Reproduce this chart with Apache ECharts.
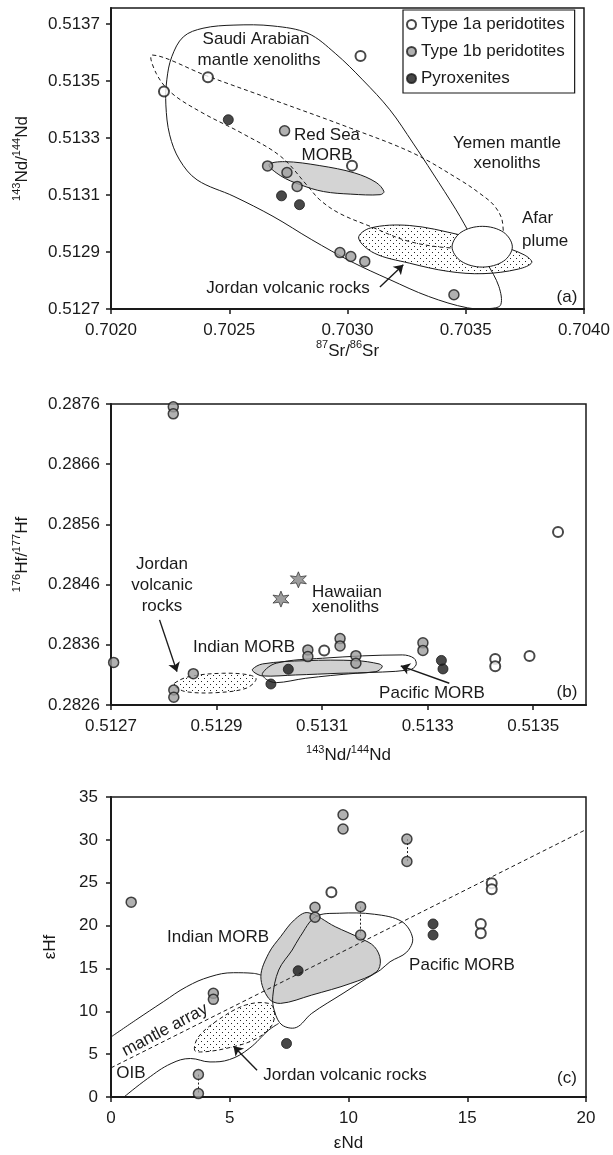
<!DOCTYPE html>
<html>
<head>
<meta charset="utf-8">
<script src="https://cdn.jsdelivr.net/npm/echarts@6/dist/echarts.min.js"></script>
<style>
html,body{margin:0;padding:0;background:#fff}
#main{width:613px;height:1155px}
</style>
</head>
<body>
<div id="main"></div>
<script>
// ---- panel (a): 87Sr/86Sr vs 143Nd/144Nd ----
var a_type1a = [[0.702224,0.513463],[0.702410,0.513513],[0.703055,0.513588],[0.703019,0.513203]];
var a_type1b = [[0.702734,0.513325],[0.702662,0.513202],[0.702744,0.513179],[0.702787,0.513130],
  [0.702968,0.512898],[0.703014,0.512884],[0.703073,0.512867],[0.703450,0.512750]];
var a_pyrox = [[0.702496,0.513364],[0.702721,0.513097],[0.702797,0.513066]];
var a_saudi = [[0.702257,0.513585],[0.702306,0.513655],[0.702389,0.513685],[0.70252,0.513696],[0.702685,0.513693],
  [0.702833,0.513667],[0.702948,0.513597],[0.703064,0.513504],[0.703179,0.513399],[0.703277,0.513282],
  [0.70336,0.513177],[0.703459,0.513048],[0.703524,0.512954],[0.70359,0.512861],[0.70364,0.512779],
  [0.703648,0.512715],[0.703607,0.512702],[0.703508,0.512704],[0.703343,0.512744],[0.703179,0.512803],
  [0.703014,0.512867],[0.702849,0.512943],[0.702685,0.513025],[0.70252,0.513095],[0.702364,0.513153],
  [0.70229,0.513223],[0.702248,0.513311],[0.702232,0.513416],[0.702236,0.513504]];
var a_yemen = [[0.702175,0.513591],[0.702405,0.513518],[0.702685,0.513434],[0.703014,0.513334],[0.703277,0.513247],
  [0.703475,0.513153],[0.703557,0.513107],[0.703623,0.51306],[0.703656,0.513001],[0.70364,0.512919],
  [0.703442,0.512914],[0.703261,0.512937],[0.703096,0.51299],[0.702965,0.513036],[0.702883,0.513083],
  [0.702833,0.51313],[0.702718,0.513235],[0.702553,0.513317],[0.702389,0.513387],[0.702257,0.513457],
  [0.702191,0.513527]];
var a_redsea = [[0.702668,0.513206],[0.702734,0.513217],[0.702883,0.513203],[0.703031,0.513177],[0.703121,0.513144],
  [0.703154,0.513112],[0.703138,0.513101],[0.703014,0.513103],[0.702899,0.513112],[0.7028,0.513136],[0.702718,0.513167]];
var a_jordan = [[0.703047,0.512949],[0.703096,0.512984],[0.703261,0.512993],[0.703475,0.51296],[0.70364,0.512923],
  [0.703747,0.51289],[0.703779,0.512863],[0.703722,0.51284],[0.703574,0.512824],[0.703426,0.512832],
  [0.703261,0.512861],[0.703113,0.512896]];
var a_afar = [[0.703697,0.512918],[0.70366,0.512969],[0.70357,0.51299],[0.70348,0.512969],
  [0.703442,0.512918],[0.70348,0.512868],[0.70357,0.512847],[0.70366,0.512868]];
var a_arrow = [[0.703137,0.512777],[0.703236,0.512855]];
var a_xticks = [0.7020,0.7025,0.7030,0.7035,0.7040];
var a_yticks = [0.5127,0.5129,0.5131,0.5133,0.5135,0.5137];

// ---- panel (b): 143Nd/144Nd vs 176Hf/177Hf ----
var b_type1a = [[0.513104,0.283507],[0.513428,0.283365],[0.513428,0.283244],[0.513493,0.283415],[0.513547,0.285474]];
var b_type1b = [[0.512705,0.283307],[0.512856,0.283121],[0.512819,0.282850],[0.512819,0.282728],[0.512818,0.287553],
  [0.512818,0.287437],[0.513073,0.283515],[0.513073,0.283404],[0.513134,0.283703],[0.513134,0.283582],
  [0.513164,0.283420],[0.513164,0.283294],[0.513291,0.283632],[0.513291,0.283507]];
var b_pyrox = [[0.513003,0.282949],[0.513036,0.283194],[0.513326,0.283340],[0.513329,0.283199]];
var b_hawaii = [[0.513055,0.284680],[0.513022,0.284359]];
var b_jordan = [[0.51282,0.282961],[0.512848,0.283071],[0.512911,0.283127],[0.512962,0.283099],[0.512975,0.283028],
  [0.512956,0.282878],[0.512899,0.282805],[0.512842,0.282821],[0.512822,0.282904]];
var b_indian = [[0.512968,0.283194],[0.512987,0.283282],[0.513069,0.283337],[0.513164,0.283337],[0.513208,0.283282],
  [0.513214,0.283237],[0.513202,0.283154],[0.513132,0.283127],[0.51305,0.283099],[0.512987,0.283083],[0.512971,0.283144]];
var b_pacific = [[0.512987,0.283127],[0.513013,0.283294],[0.513101,0.283377],[0.513252,0.283432],[0.513274,0.283377],
  [0.513278,0.283266],[0.513265,0.283182],[0.513164,0.283127],[0.513069,0.283044],[0.513013,0.282971],[0.512994,0.283028]];
var b_arrows = [[[0.512792,0.284014],[0.512825,0.283154]], [[0.513341,0.282961],[0.513249,0.283249]]];
var b_xticks = [0.5127,0.5129,0.5131,0.5133,0.5135];
var b_yticks = [0.2826,0.2836,0.2846,0.2856,0.2866,0.2876];

// ---- panel (c): eNd vs eHf ----
var c_type1a = [[9.28,23.9],[16.03,24.95],[16.03,24.25],[15.57,20.19],[15.57,19.1]];
var c_type1b = [[0.85,22.73],[9.77,32.93],[9.77,31.26],[12.46,30.09],[12.46,27.47],[8.59,22.14],[8.59,20.97],
  [10.51,22.21],[10.51,18.9],[4.31,12.09],[4.31,11.39],[3.68,2.62],[3.68,0.4]];
var c_pyrox = [[13.56,20.19],[13.56,18.9],[7.88,14.73],[7.39,6.24]];
var c_pairs = [[[12.46,30.09],[12.46,27.47]], [[10.51,22.21],[10.51,18.9]], [[3.68,2.62],[3.68,0.4]]];
var c_mantleArray = [[0,3.4],[20,31.2]];
var c_oibUpper = [[0,7.0],[1.04,8.97],[2.2,11.11],[3.18,12.86],[4.17,14.03],[5.16,14.5],[5.99,14.43],[6.31,14.23]];
var c_oibLower = [[0.55,0],[1.54,2.15],[2.53,3.9],[3.35,4.49],[4.17,4.09],[4.99,4.37],[5.82,5.66],[6.64,7.8],[7.06,8.58]];
var c_jordan = [[3.52,5.46],[3.68,7.01],[4.5,8.97],[5.66,10.72],[6.64,10.92],[6.89,9.94],[6.73,8.18],[5.99,6.63],[4.83,5.66],[3.85,5.26]];
var c_indian = [[8.29,21.51],[9.44,19.87],[10.51,18.51],[11.09,17.54],[11.34,15.98],[11.18,14.61],[10.1,13.26],
  [8.45,11.89],[7.14,10.92],[6.64,11.5],[6.31,14.03],[6.64,16.76],[7.14,18.7],[7.72,20.66]];
var c_pacific = [[8.62,21.04],[9.61,21.44],[11.09,21.32],[12.25,20.46],[12.7,18.51],[12.45,16.9],[11.75,15.78],
  [11.34,14.81],[10.76,13.84],[9.77,12.09],[8.45,9.75],[7.8,8.11],[7.2,8.4],[6.89,9.94],[6.81,11.69],
  [7.06,14.81],[7.63,17.15],[7.96,18.7]];
var c_arrow = [[6.15,3.12],[5.16,5.93]];

var INK = '#1a1a1a';
var FONT = '"Liberation Sans", Arial, sans-serif';

// dotted fill for the Jordan fields
var dots = document.createElement('canvas');
dots.width = 6; dots.height = 6;
var dctx = dots.getContext('2d');
dctx.fillStyle = '#222';
dctx.fillRect(0, 0, 1, 1);
dctx.fillRect(3, 3, 1, 1);
var dotFill = {image: dots, repeat: 'repeat'};

function field(verts, idx, style, z) {
  return {
    type: 'custom', coordinateSystem: 'cartesian2d', xAxisIndex: idx, yAxisIndex: idx,
    data: verts, encode: {x: 0, y: 1}, z: z, silent: true,
    renderItem: function (params, api) {
      if (params.dataIndex !== 0) return null;
      var pts = verts.map(function (v) { return api.coord(v); });
      return {type: 'polygon', shape: {points: pts, smooth: 0.35}, style: style};
    }
  };
}

function curve(pts, idx, dashed) {
  return {
    type: 'line', xAxisIndex: idx, yAxisIndex: idx, data: pts, smooth: 0.4, symbol: 'none', silent: true, z: 3,
    lineStyle: {color: INK, width: 1, type: dashed ? [4, 3] : 'solid'}
  };
}

function arrows(list, idx, dashed) {
  return {
    type: 'lines', coordinateSystem: 'cartesian2d', xAxisIndex: idx, yAxisIndex: idx, silent: true, z: 6,
    symbol: dashed ? 'none' : ['none', 'arrow'], symbolSize: 9,
    lineStyle: {color: INK, width: dashed ? 1 : 1.4, opacity: 1, type: dashed ? [2, 2] : 'solid'},
    data: list.map(function (c) { return {coords: c}; })
  };
}

var ptStyle = {
  'Type 1a peridotites': {color: '#fff', borderColor: INK, borderWidth: 2},
  'Type 1b peridotites': {color: '#9e9e9e', borderColor: INK, borderWidth: 1.5},
  'Pyroxenites': {color: INK, borderColor: INK, borderWidth: 1}
};
function pts(name, data, idx) {
  return {
    type: 'scatter', name: name, xAxisIndex: idx, yAxisIndex: idx, data: data, symbol: 'circle', symbolSize: 10,
    itemStyle: ptStyle[name], z: 10, clip: false, silent: true
  };
}

var supRich = {
  s: {fontSize: 11, fontFamily: FONT, color: INK, verticalAlign: 'top', lineHeight: 11},
  n: {fontSize: 17, fontFamily: FONT, color: INK, verticalAlign: 'bottom', lineHeight: 20}
};
function axisCommon(ticks, digits, margin) {
  var o = {
    type: 'value',
    axisLine: {show: true, onZero: false, lineStyle: {color: INK, width: 2}},
    axisTick: {show: true, length: 5, lineStyle: {color: INK, width: 1.5}},
    axisLabel: {fontSize: 17, fontFamily: FONT, color: INK, margin: margin,
      formatter: function (v) { return v.toFixed(digits); }},
    splitLine: {show: false},
    nameLocation: 'middle',
    nameTextStyle: {fontSize: 17, fontFamily: FONT, color: INK, rich: supRich}
  };
  if (ticks) {
    o.axisTick.customValues = ticks;
    o.axisLabel.customValues = ticks;
  }
  return o;
}
function ax(base, extra) { return Object.assign(base, extra); }

function txt(s, x, y, align, rot) {
  return {type: 'text', x: x, y: y, rotation: rot || 0, z: 50, silent: true,
    style: {text: s, fill: INK, font: '17px ' + FONT, align: align || 'center', verticalAlign: 'middle'}};
}

var chart = echarts.init(document.getElementById('main'));
var gridBox = {left: 111, width: 475, show: true, borderColor: INK, borderWidth: 1.5};

chart.setOption({
  backgroundColor: '#fff',
  animation: false,
  textStyle: {fontFamily: FONT},
  grid: [
    Object.assign({top: 8, height: 301}, gridBox),
    Object.assign({top: 404, height: 301}, gridBox),
    Object.assign({top: 797, height: 300}, gridBox)
  ],
  xAxis: [
    ax(axisCommon(a_xticks, 4, 13), {gridIndex: 0, min: 0.702, max: 0.704, name: '{s|87}{n|Sr/}{s|86}{n|Sr}', nameGap: 30}),
    ax(axisCommon(b_xticks, 4, 13), {gridIndex: 1, min: 0.5127, max: 0.5136, name: '{s|143}{n|Nd/}{s|144}{n|Nd}', nameGap: 39}),
    ax(axisCommon(null, 0, 13), {gridIndex: 2, min: 0, max: 20, interval: 5, name: 'εNd', nameGap: 38})
  ],
  yAxis: [
    ax(axisCommon(a_yticks, 4, 11), {gridIndex: 0, min: 0.5127, max: 0.513756, name: '{s|143}{n|Nd/}{s|144}{n|Nd}', nameGap: 80}),
    ax(axisCommon(b_yticks, 4, 11), {gridIndex: 1, min: 0.2826, max: 0.2876, name: '{s|176}{n|Hf/}{s|177}{n|Hf}', nameGap: 80}),
    ax(axisCommon(null, 0, 13), {gridIndex: 2, min: 0, max: 35, interval: 5, name: 'εHf', nameGap: 52})
  ],
  legend: {
    data: ['Type 1a peridotites', 'Type 1b peridotites', 'Pyroxenites'],
    orient: 'vertical', left: 403, top: 10, padding: [6, 10, 6, 3], itemGap: 10,
    itemWidth: 9, itemHeight: 9, selectedMode: false,
    backgroundColor: '#fff', borderColor: INK, borderWidth: 1.2, borderRadius: 0,
    textStyle: {fontSize: 17, fontFamily: FONT, color: INK}
  },
  graphic: [
    txt('Saudi Arabian', 256, 39), txt('mantle xenoliths', 259, 60),
    txt('Red Sea', 327, 135), txt('MORB', 327, 155),
    txt('Yemen mantle', 507, 143), txt('xenoliths', 507, 163),
    txt('Afar', 522, 218, 'left'), txt('plume', 522, 241, 'left'),
    txt('Jordan volcanic rocks', 288, 288), txt('(a)', 567, 297),
    txt('Jordan', 162, 564), txt('volcanic', 162, 585), txt('rocks', 162, 606),
    txt('Hawaiian', 312, 592, 'left'), txt('xenoliths', 312, 607, 'left'),
    txt('Indian MORB', 244, 647), txt('Pacific MORB', 432, 693), txt('(b)', 567, 692),
    txt('Indian MORB', 218, 937), txt('Pacific MORB', 462, 965),
    txt('mantle array', 165, 1030, 'center', 28 * Math.PI / 180),
    txt('OIB', 131, 1073), txt('Jordan volcanic rocks', 345, 1075), txt('(c)', 567, 1078)
  ],
  series: [
    // panel (a) fields
    field(a_redsea, 0, {fill: '#d4d4d4', stroke: INK, lineWidth: 1}, 1),
    field(a_jordan, 0, {fill: dotFill, stroke: INK, lineWidth: 1}, 2),
    field(a_saudi, 0, {fill: 'none', stroke: INK, lineWidth: 1}, 3),
    field(a_yemen, 0, {fill: 'none', stroke: INK, lineWidth: 1, lineDash: [4, 3]}, 3),
    field(a_afar, 0, {fill: '#fff', stroke: INK, lineWidth: 1}, 4),
    arrows([a_arrow], 0, false),
    pts('Type 1a peridotites', a_type1a, 0),
    pts('Type 1b peridotites', a_type1b, 0),
    pts('Pyroxenites', a_pyrox, 0),
    // panel (b)
    field(b_jordan, 1, {fill: dotFill, stroke: INK, lineWidth: 1, lineDash: [4, 3]}, 2),
    field(b_indian, 1, {fill: '#d0d0d0', stroke: INK, lineWidth: 1}, 2),
    field(b_pacific, 1, {fill: 'none', stroke: INK, lineWidth: 1}, 3),
    arrows(b_arrows, 1, false),
    pts('Type 1a peridotites', b_type1a, 1),
    pts('Type 1b peridotites', b_type1b, 1),
    pts('Pyroxenites', b_pyrox, 1),
    {
      type: 'scatter', name: 'Hawaiian xenoliths', xAxisIndex: 1, yAxisIndex: 1, data: b_hawaii, z: 10, silent: true,
      symbol: 'path://M0,-10 L2.25,-3.9 L8.66,-5 L4.5,0 L8.66,5 L2.25,3.9 L0,10 L-2.25,3.9 L-8.66,5 L-4.5,0 L-8.66,-5 L-2.25,-3.9 Z',
      symbolSize: 16, itemStyle: {color: '#858585', borderColor: INK, borderWidth: 0.8}
    },
    // panel (c)
    curve(c_oibUpper, 2, false),
    curve(c_oibLower, 2, false),
    field(c_indian, 2, {fill: '#d0d0d0', stroke: INK, lineWidth: 1}, 4),
    field(c_pacific, 2, {fill: 'none', stroke: INK, lineWidth: 1}, 5),
    field(c_jordan, 2, {fill: dotFill, stroke: INK, lineWidth: 1, lineDash: [4, 3]}, 5),
    {
      type: 'line', xAxisIndex: 2, yAxisIndex: 2, data: c_mantleArray, symbol: 'none', silent: true, z: 6,
      lineStyle: {color: INK, width: 1, type: [4, 3]}
    },
    arrows(c_pairs, 2, true),
    arrows([c_arrow], 2, false),
    pts('Type 1a peridotites', c_type1a, 2),
    pts('Type 1b peridotites', c_type1b, 2),
    pts('Pyroxenites', c_pyrox, 2)
  ]
});
</script>
</body>
</html>
